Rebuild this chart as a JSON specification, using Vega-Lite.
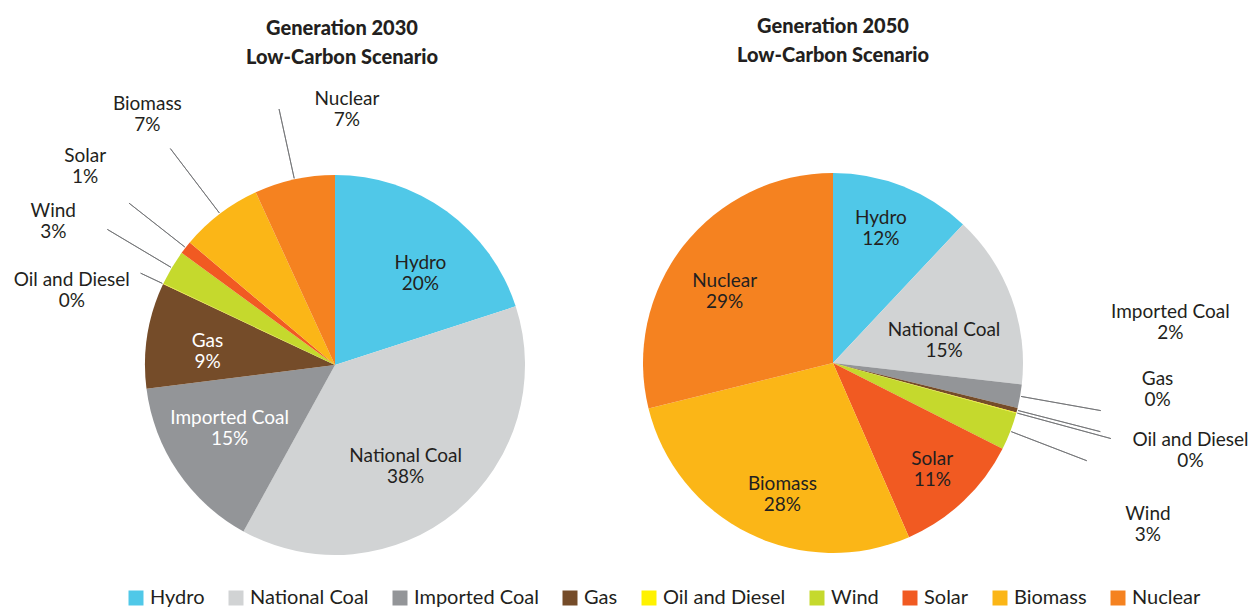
{
  "$schema": "https://vega.github.io/schema/vega-lite/v6.json",
  "width": 1252,
  "height": 610,
  "autosize": {"type": "fit", "contains": "padding"},
  "padding": 0,
  "background": "white",
  "config": {"view": {"stroke": null}, "font": "Lato"},
  "datasets": {
    "gen2030": [
      {"year": "2030", "source": "Hydro", "share": 0.20, "order": 1},
      {"year": "2030", "source": "National Coal", "share": 0.38, "order": 2},
      {"year": "2030", "source": "Imported Coal", "share": 0.15, "order": 3},
      {"year": "2030", "source": "Gas", "share": 0.09, "order": 4},
      {"year": "2030", "source": "Oil and Diesel", "share": 0.0005, "order": 5},
      {"year": "2030", "source": "Wind", "share": 0.03, "order": 6},
      {"year": "2030", "source": "Solar", "share": 0.011, "order": 7},
      {"year": "2030", "source": "Biomass", "share": 0.07, "order": 8},
      {"year": "2030", "source": "Nuclear", "share": 0.0685, "order": 9}
    ],
    "gen2050": [
      {"year": "2050", "source": "Hydro", "share": 0.12, "order": 1},
      {"year": "2050", "source": "National Coal", "share": 0.148, "order": 2},
      {"year": "2050", "source": "Imported Coal", "share": 0.02, "order": 3},
      {"year": "2050", "source": "Gas", "share": 0.004, "order": 4},
      {"year": "2050", "source": "Oil and Diesel", "share": 0.0005, "order": 5},
      {"year": "2050", "source": "Wind", "share": 0.032, "order": 6},
      {"year": "2050", "source": "Solar", "share": 0.11, "order": 7},
      {"year": "2050", "source": "Biomass", "share": 0.277, "order": 8},
      {"year": "2050", "source": "Nuclear", "share": 0.2885, "order": 9}
    ],
    "titles": [
      {"year": "2030", "title": "Generation 2030\nLow-Carbon Scenario"},
      {"year": "2050", "title": "Generation 2050\nLow-Carbon Scenario"}
    ]
  },
  "encoding": {
    "x": {"field": "year", "type": "nominal", "scale": {"type": "point", "padding": 0, "domain": ["2030", "2050"], "range": [335, 833]}, "axis": null},
    "y": {"field": "year", "type": "nominal", "scale": {"type": "point", "padding": 0, "domain": ["2030", "2050"], "range": [365, 363]}, "axis": null}
  },
  "layer": [
    {
      "data": {"name": "gen2030"},
      "mark": {"type": "arc", "radius": 190},
      "encoding": {
        "theta": {"field": "share", "type": "quantitative", "stack": true, "scale": {"domain": [0, 1]}},
        "order": {"field": "order", "type": "quantitative"},
        "color": {
          "field": "source", "type": "nominal",
          "scale": {
            "domain": ["Hydro", "National Coal", "Imported Coal", "Gas", "Oil and Diesel", "Wind", "Solar", "Biomass", "Nuclear"],
            "range": ["#50c8e8", "#d1d3d4", "#939598", "#754c29", "#fff200", "#c5d92d", "#f15a22", "#fbb617", "#f58220"]
          },
          "legend": {
            "orient": "none", "legendX": 126, "legendY": 588, "direction": "horizontal", "columns": 9,
            "title": null, "symbolType": "square", "symbolSize": 225, "symbolStrokeWidth": 0,
            "labelFont": "Lato", "labelFontSize": 20, "labelColor": "#231f20", "columnPadding": 21,
            "labelOffset": 4, "labelLimit": 0
          }
        }
      }
    },
    {
      "data": {"name": "gen2050"},
      "mark": {"type": "arc", "radius": 190},
      "encoding": {
        "theta": {"field": "share", "type": "quantitative", "stack": true, "scale": {"domain": [0, 1]}},
        "order": {"field": "order", "type": "quantitative"},
        "color": {"field": "source", "type": "nominal"}
      }
    },
    {
      "data": {"name": "gen2030"},
      "mark": {
        "type": "arc", "padAngle": 3.1, "radius2": 191, "filled": false,
        "radius": {"expr": "datum.source=='Nuclear' ? 262 : datum.source=='Biomass' ? 272 : datum.source=='Solar' ? 262 : datum.source=='Wind' ? 265 : 215"},
        "stroke": "#6d6e71", "strokeWidth": 0.8,
        "strokeOpacity": {"expr": "indexof(['Nuclear','Biomass','Solar','Wind','Oil and Diesel'], datum.source) >= 0 ? 1 : 0"}
      },
      "encoding": {
        "theta": {"field": "share", "type": "quantitative", "stack": true},
        "order": {"field": "order", "type": "quantitative"},
        "detail": {"field": "source", "type": "nominal"}
      }
    },
    {
      "data": {"name": "gen2050"},
      "mark": {
        "type": "arc", "padAngle": 3.1, "radius2": 191, "filled": false,
        "radius": {"expr": "datum.source=='Imported Coal' ? 272 : datum.source=='Gas' ? 276 : datum.source=='Oil and Diesel' ? 288 : 272"},
        "stroke": "#6d6e71", "strokeWidth": 0.8,
        "strokeOpacity": {"expr": "indexof(['Imported Coal','Gas','Oil and Diesel','Wind'], datum.source) >= 0 ? 1 : 0"}
      },
      "encoding": {
        "theta": {"field": "share", "type": "quantitative", "stack": true},
        "order": {"field": "order", "type": "quantitative"},
        "detail": {"field": "source", "type": "nominal"}
      }
    },
    {
      "data": {"name": "gen2030"},
      "mark": {
        "type": "text", "radius": 125, "align": "center", "baseline": "middle",
        "font": "Lato", "fontSize": 19, "lineHeight": 21,
        "dx": {"expr": "datum.source=='Hydro' ? 12 : datum.source=='National Coal' ? -9 : datum.source=='Imported Coal' ? -2 : -4"},
        "dy": {"expr": "datum.source=='Hydro' ? -1 : datum.source=='National Coal' ? -5 : datum.source=='Imported Coal' ? -17 : -4"},
        "text": {"expr": "indexof(['Hydro','National Coal','Imported Coal','Gas'], datum.source) >= 0 ? [datum.source, format(datum.share, '.0%')] : ''"},
        "fill": {"expr": "datum.source=='Gas' || datum.source=='Imported Coal' ? '#ffffff' : '#231f20'"}
      },
      "encoding": {
        "theta": {"field": "share", "type": "quantitative", "stack": true},
        "order": {"field": "order", "type": "quantitative"},
        "detail": {"field": "source", "type": "nominal"}
      }
    },
    {
      "data": {"name": "gen2050"},
      "mark": {
        "type": "text", "radius": 130, "align": "center", "baseline": "middle",
        "font": "Lato", "fontSize": 19, "lineHeight": 21, "fill": "#231f20",
        "dx": {"expr": "datum.source=='Hydro' ? 0 : datum.source=='National Coal' ? -11 : datum.source=='Solar' ? 10 : datum.source=='Biomass' ? 7 : -6"},
        "dy": {"expr": "datum.source=='Hydro' ? -24 : datum.source=='National Coal' ? 12 : datum.source=='Solar' ? 2 : datum.source=='Biomass' ? 4 : -2"},
        "text": {"expr": "indexof(['Hydro','National Coal','Solar','Biomass','Nuclear'], datum.source) >= 0 ? [datum.source, format(datum.share, '.0%')] : ''"}
      },
      "encoding": {
        "theta": {"field": "share", "type": "quantitative", "stack": true},
        "order": {"field": "order", "type": "quantitative"},
        "detail": {"field": "source", "type": "nominal"}
      }
    },
    {
      "data": {"name": "gen2030"},
      "mark": {
        "type": "text", "radius": 300, "align": "center", "baseline": "middle",
        "font": "Lato", "fontSize": 19, "lineHeight": 21, "fill": "#231f20",
        "dx": {"expr": "datum.source=='Nuclear' ? 76 : datum.source=='Biomass' ? -6 : datum.source=='Solar' ? -14 : datum.source=='Wind' ? -24 : 8"},
        "dy": {"expr": "datum.source=='Nuclear' ? 27 : datum.source=='Biomass' ? -22 : datum.source=='Solar' ? -24 : datum.source=='Wind' ? 0 : 43"},
        "text": {"expr": "indexof(['Nuclear','Biomass','Solar','Wind','Oil and Diesel'], datum.source) >= 0 ? [datum.source, format(datum.share, '.0%')] : ''"}
      },
      "encoding": {
        "theta": {"field": "share", "type": "quantitative", "stack": true},
        "order": {"field": "order", "type": "quantitative"},
        "detail": {"field": "source", "type": "nominal"}
      }
    },
    {
      "data": {"name": "gen2050"},
      "mark": {
        "type": "text", "radius": 300, "align": "center", "baseline": "middle",
        "font": "Lato", "fontSize": 19, "lineHeight": 21, "fill": "#231f20",
        "dx": {"expr": "datum.source=='Imported Coal' ? 42 : datum.source=='Gas' ? 34 : datum.source=='Oil and Diesel' ? 68 : 35"},
        "dy": {"expr": "datum.source=='Imported Coal' ? -104 : datum.source=='Gas' ? -59 : datum.source=='Oil and Diesel' ? -2 : 43"},
        "text": {"expr": "indexof(['Imported Coal','Gas','Oil and Diesel','Wind'], datum.source) >= 0 ? [datum.source, format(datum.share, '.0%')] : ''"}
      },
      "encoding": {
        "theta": {"field": "share", "type": "quantitative", "stack": true},
        "order": {"field": "order", "type": "quantitative"},
        "detail": {"field": "source", "type": "nominal"}
      }
    },
    {
      "data": {"name": "titles"},
      "mark": {
        "type": "text", "theta": 0, "radius": 336, "align": "center", "baseline": "middle",
        "font": "Lato", "fontSize": 20, "fontWeight": 900, "lineHeight": 29, "lineBreak": "\n", "fill": "#231f20",
        "dx": {"expr": "datum.year=='2030' ? 7 : 0"}
      },
      "encoding": {
        "text": {"field": "title", "type": "nominal"}
      }
    }
  ]
}
